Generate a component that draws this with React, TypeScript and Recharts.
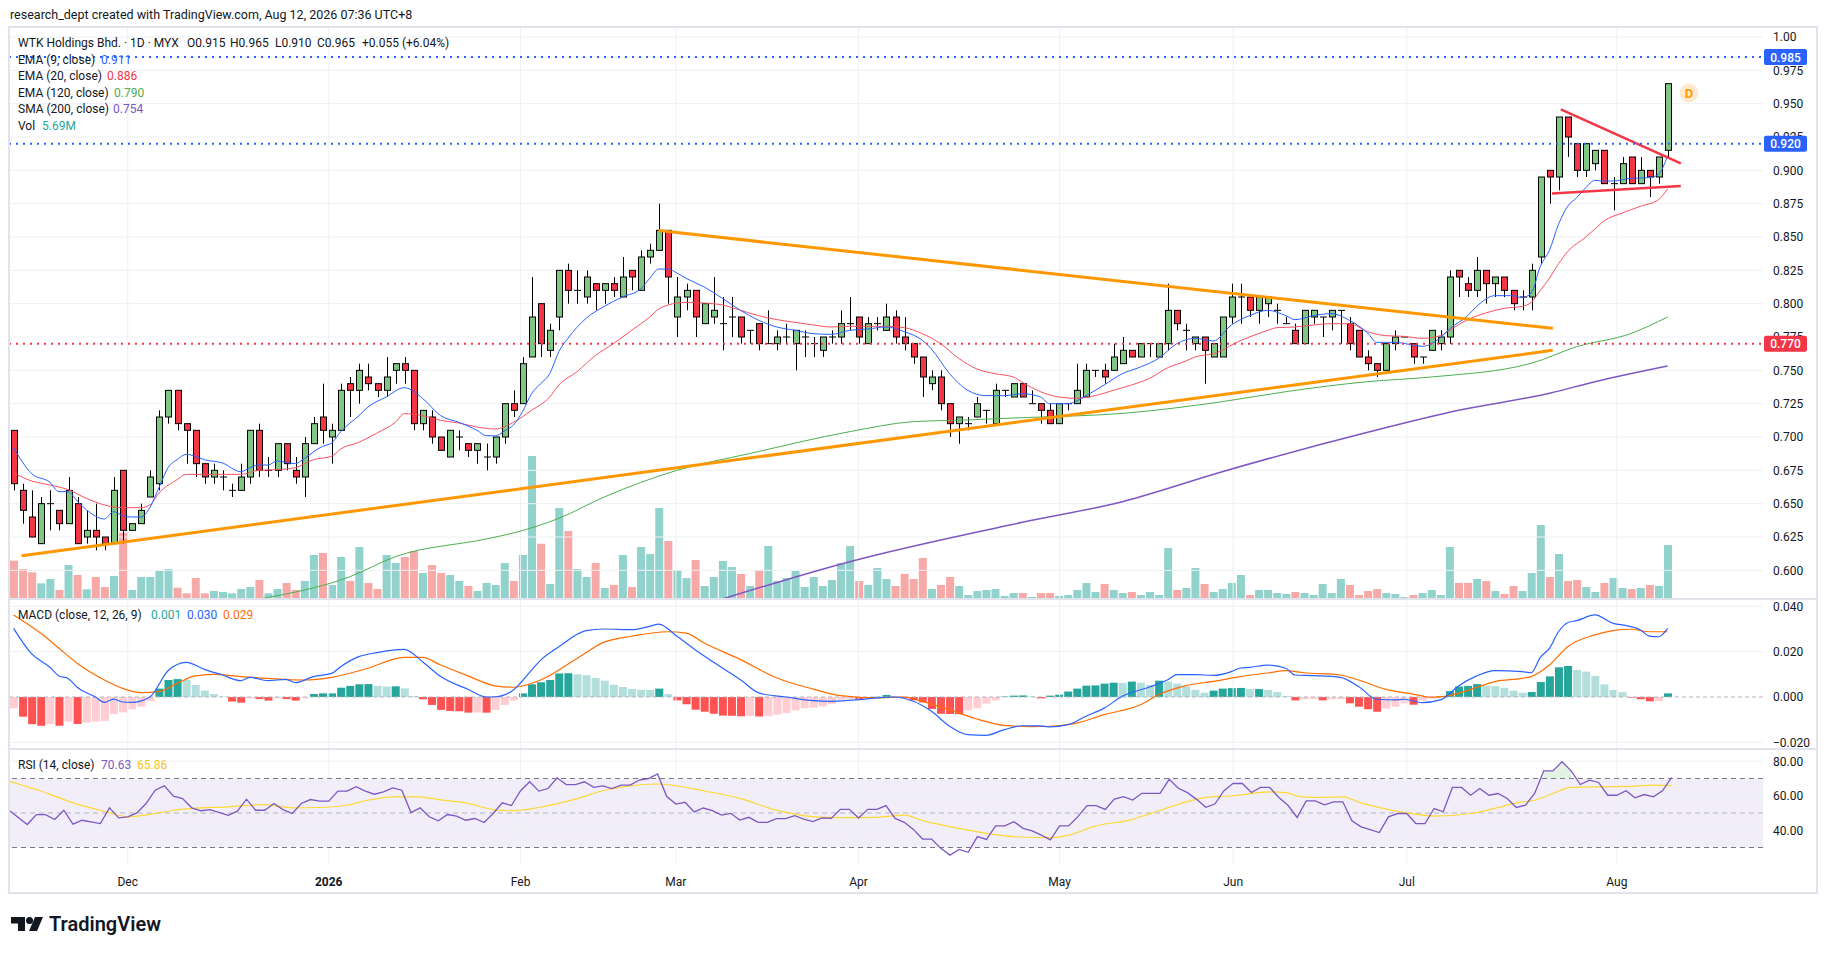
import React from "react";
import {
  ComposedChart,
  Bar,
  Line,
  Area,
  XAxis,
  YAxis,
  ReferenceLine,
  ReferenceArea,
} from "recharts";

// ---- daily candles, 13 Nov 2025 .. 11 Aug 2026 (index = trading day) ----
const OPEN = [
  0.705, 0.66, 0.64, 0.62, 0.65, 0.645, 0.635, 0.65, 0.625, 0.63,
  0.625, 0.62, 0.675, 0.63, 0.635, 0.655, 0.665, 0.715, 0.735, 0.71,
  0.705, 0.68, 0.67, 0.67, 0.66, 0.66, 0.67, 0.705, 0.675, 0.675,
  0.695, 0.675, 0.67, 0.695, 0.715, 0.7, 0.705, 0.74, 0.735, 0.745,
  0.74, 0.735, 0.75, 0.755, 0.75, 0.71, 0.715, 0.7, 0.685, 0.7,
  0.695, 0.69, 0.685, 0.685, 0.7, 0.725, 0.725, 0.76, 0.8, 0.765,
  0.79, 0.825, 0.81, 0.805, 0.815, 0.81, 0.815, 0.805, 0.825, 0.81,
  0.835, 0.84, 0.855, 0.79, 0.805, 0.81, 0.785, 0.79, 0.785, 0.79,
  0.79, 0.78, 0.785, 0.77, 0.77, 0.775, 0.77, 0.775, 0.77, 0.765,
  0.775, 0.775, 0.785, 0.79, 0.77, 0.785, 0.78, 0.79, 0.775, 0.77,
  0.76, 0.74, 0.745, 0.725, 0.71, 0.71, 0.715, 0.72, 0.71, 0.735,
  0.73, 0.74, 0.725, 0.725, 0.72, 0.71, 0.725, 0.725, 0.73, 0.75,
  0.75, 0.75, 0.755, 0.765, 0.76, 0.77, 0.76, 0.77, 0.795, 0.78,
  0.77, 0.775, 0.76, 0.76, 0.79, 0.805, 0.805, 0.795, 0.8, 0.795,
  0.785, 0.78, 0.77, 0.79, 0.79, 0.79, 0.795, 0.785, 0.78, 0.76,
  0.755, 0.75, 0.77, 0.775, 0.77, 0.76, 0.765, 0.77, 0.775, 0.825,
  0.815, 0.81, 0.825, 0.815, 0.82, 0.81, 0.805, 0.805, 0.835, 0.9,
  0.895, 0.94, 0.92, 0.9, 0.905, 0.915, 0.89, 0.89, 0.91, 0.89,
  0.9, 0.895, 0.915,
];
const HIGH = [
  0.705, 0.665, 0.66, 0.655, 0.66, 0.645, 0.67, 0.655, 0.645, 0.65,
  0.625, 0.67, 0.675, 0.635, 0.65, 0.675, 0.72, 0.735, 0.735, 0.71,
  0.705, 0.68, 0.68, 0.675, 0.665, 0.68, 0.705, 0.71, 0.685, 0.695,
  0.695, 0.685, 0.7, 0.715, 0.74, 0.71, 0.74, 0.745, 0.755, 0.755,
  0.74, 0.76, 0.755, 0.76, 0.75, 0.72, 0.72, 0.7, 0.705, 0.705,
  0.695, 0.695, 0.695, 0.7, 0.725, 0.735, 0.76, 0.82, 0.8, 0.785,
  0.825, 0.83, 0.825, 0.825, 0.815, 0.815, 0.82, 0.835, 0.825, 0.84,
  0.845, 0.875, 0.855, 0.82, 0.815, 0.81, 0.8, 0.82, 0.805, 0.805,
  0.79, 0.78, 0.785, 0.795, 0.78, 0.785, 0.78, 0.78, 0.775, 0.775,
  0.78, 0.795, 0.805, 0.79, 0.79, 0.79, 0.8, 0.795, 0.79, 0.77,
  0.76, 0.75, 0.75, 0.725, 0.715, 0.715, 0.73, 0.72, 0.74, 0.735,
  0.74, 0.74, 0.735, 0.725, 0.725, 0.725, 0.725, 0.755, 0.755, 0.75,
  0.755, 0.77, 0.775, 0.765, 0.77, 0.77, 0.77, 0.815, 0.795, 0.785,
  0.775, 0.775, 0.77, 0.79, 0.815, 0.815, 0.805, 0.805, 0.805, 0.8,
  0.79, 0.785, 0.795, 0.795, 0.79, 0.795, 0.795, 0.79, 0.78, 0.765,
  0.755, 0.77, 0.78, 0.775, 0.77, 0.76, 0.78, 0.78, 0.825, 0.825,
  0.82, 0.835, 0.825, 0.82, 0.82, 0.81, 0.81, 0.83, 0.895, 0.9,
  0.94, 0.94, 0.92, 0.92, 0.915, 0.915, 0.895, 0.91, 0.91, 0.91,
  0.9, 0.91, 0.965,
];
const LOW = [
  0.66, 0.635, 0.625, 0.62, 0.63, 0.63, 0.635, 0.62, 0.62, 0.615,
  0.615, 0.62, 0.62, 0.63, 0.635, 0.655, 0.66, 0.71, 0.705, 0.68,
  0.67, 0.665, 0.665, 0.66, 0.655, 0.66, 0.665, 0.67, 0.67, 0.67,
  0.675, 0.665, 0.655, 0.695, 0.695, 0.68, 0.705, 0.715, 0.725, 0.735,
  0.73, 0.73, 0.74, 0.74, 0.705, 0.705, 0.695, 0.69, 0.685, 0.69,
  0.685, 0.68, 0.675, 0.68, 0.695, 0.715, 0.725, 0.76, 0.76, 0.76,
  0.78, 0.8, 0.8, 0.8, 0.795, 0.8, 0.805, 0.805, 0.81, 0.81,
  0.83, 0.84, 0.8, 0.775, 0.795, 0.775, 0.785, 0.785, 0.765, 0.775,
  0.77, 0.77, 0.765, 0.77, 0.765, 0.77, 0.75, 0.76, 0.76, 0.76,
  0.77, 0.77, 0.78, 0.77, 0.77, 0.78, 0.78, 0.77, 0.765, 0.755,
  0.73, 0.735, 0.72, 0.7, 0.695, 0.705, 0.715, 0.71, 0.71, 0.73,
  0.73, 0.73, 0.725, 0.71, 0.71, 0.71, 0.72, 0.725, 0.73, 0.745,
  0.74, 0.75, 0.755, 0.76, 0.76, 0.76, 0.76, 0.765, 0.78, 0.765,
  0.765, 0.74, 0.76, 0.76, 0.785, 0.785, 0.79, 0.785, 0.79, 0.785,
  0.785, 0.77, 0.77, 0.785, 0.775, 0.78, 0.77, 0.765, 0.76, 0.75,
  0.745, 0.75, 0.765, 0.775, 0.755, 0.755, 0.765, 0.765, 0.77, 0.805,
  0.805, 0.805, 0.8, 0.805, 0.805, 0.795, 0.795, 0.795, 0.83, 0.875,
  0.885, 0.91, 0.895, 0.895, 0.9, 0.89, 0.87, 0.89, 0.89, 0.89,
  0.88, 0.89, 0.91,
];
const CLOSE = [
  0.665, 0.645, 0.625, 0.65, 0.65, 0.635, 0.66, 0.62, 0.63, 0.625,
  0.62, 0.66, 0.63, 0.635, 0.645, 0.67, 0.715, 0.735, 0.71, 0.705,
  0.68, 0.67, 0.675, 0.67, 0.66, 0.67, 0.705, 0.675, 0.675, 0.695,
  0.68, 0.67, 0.695, 0.71, 0.705, 0.705, 0.735, 0.735, 0.75, 0.74,
  0.735, 0.745, 0.755, 0.75, 0.71, 0.72, 0.7, 0.69, 0.705, 0.7,
  0.69, 0.695, 0.685, 0.7, 0.725, 0.72, 0.755, 0.79, 0.77, 0.78,
  0.825, 0.81, 0.81, 0.82, 0.81, 0.815, 0.81, 0.82, 0.82, 0.835,
  0.84, 0.855, 0.82, 0.805, 0.81, 0.79, 0.8, 0.795, 0.785, 0.79,
  0.775, 0.78, 0.77, 0.77, 0.775, 0.775, 0.78, 0.775, 0.77, 0.775,
  0.775, 0.785, 0.785, 0.775, 0.785, 0.785, 0.79, 0.775, 0.77, 0.76,
  0.745, 0.745, 0.725, 0.71, 0.715, 0.71, 0.725, 0.72, 0.735, 0.735,
  0.74, 0.73, 0.725, 0.72, 0.71, 0.725, 0.725, 0.735, 0.75, 0.75,
  0.745, 0.76, 0.765, 0.76, 0.77, 0.77, 0.77, 0.795, 0.785, 0.78,
  0.775, 0.765, 0.77, 0.79, 0.805, 0.805, 0.795, 0.805, 0.805, 0.795,
  0.785, 0.77, 0.795, 0.795, 0.79, 0.795, 0.795, 0.77, 0.76, 0.755,
  0.75, 0.77, 0.775, 0.775, 0.76, 0.76, 0.78, 0.775, 0.82, 0.82,
  0.81, 0.825, 0.815, 0.82, 0.81, 0.8, 0.805, 0.825, 0.895, 0.895,
  0.94, 0.925, 0.9, 0.92, 0.915, 0.89, 0.89, 0.905, 0.89, 0.9,
  0.895, 0.91, 0.965,
];
// volume, millions of shares
const VOLUME = [
  4.04, 3.16, 2.81, 1.65, 2.11, 0.95, 3.58, 2.53, 1.02, 2.32,
  1.26, 2.42, 6.99, 0.95, 2.32, 2.32, 2.95, 3.16, 1.19, 0.6,
  2.21, 0.6, 0.84, 0.74, 0.6, 1.05, 1.26, 2.0, 0.6, 1.05,
  1.69, 0.95, 1.9, 4.64, 4.85, 1.48, 4.43, 1.9, 5.48, 1.69,
  1.05, 4.64, 3.79, 4.43, 5.06, 2.74, 3.58, 2.74, 2.53, 1.9,
  1.37, 0.84, 1.69, 1.48, 3.79, 1.9, 4.64, 15.07, 5.83, 1.58,
  9.59, 7.17, 3.16, 2.32, 3.79, 1.16, 1.48, 4.64, 1.26, 5.48,
  4.74, 9.59, 6.11, 3.06, 2.21, 4.11, 1.37, 2.32, 4.01, 3.37,
  2.64, 1.37, 3.06, 5.59, 1.9, 2.21, 2.95, 1.26, 2.32, 1.37,
  2.0, 3.79, 5.59, 1.9, 1.48, 3.27, 2.11, 1.37, 2.64, 2.11,
  4.32, 1.05, 1.48, 2.32, 1.37, 0.42, 0.84, 0.95, 1.05, 0.32,
  0.63, 0.63, 0.21, 0.63, 0.63, 0.32, 0.42, 0.95, 1.69, 0.74,
  1.58, 0.95, 0.63, 0.74, 0.42, 0.74, 0.42, 5.38, 0.95, 1.16,
  3.27, 1.58, 0.74, 1.05, 1.69, 2.53, 0.42, 0.95, 0.95, 0.63,
  0.53, 0.74, 0.63, 0.42, 1.58, 0.63, 2.11, 1.48, 0.42, 0.84,
  1.05, 0.63, 0.53, 0.21, 0.42, 0.63, 0.95, 0.42, 5.48, 1.69,
  1.69, 2.11, 1.9, 0.84, 0.53, 1.37, 0.84, 2.74, 7.8, 2.32,
  4.74, 1.9, 2.0, 1.26, 0.74, 1.69, 2.21, 1.16, 1.05, 1.16,
  1.48, 1.37, 5.69,
];

// ---- indicator readings [trading-day index, value] ----
const EMA9_PTS = [
  [0, 0.692], [2, 0.6725], [4, 0.666], [5, 0.659], [6, 0.659], [7, 0.652], [8, 0.6455],
  [10, 0.6385], [11, 0.644], [12, 0.641], [13, 0.64], [14, 0.64], [15, 0.647], [16, 0.662],
  [17, 0.677], [18, 0.683], [19, 0.687], [20, 0.6855], [21, 0.683], [23, 0.6805], [25, 0.674],
  [26, 0.677], [27, 0.679], [28, 0.679], [29, 0.682], [31, 0.68], [32, 0.684], [34, 0.693],
  [35, 0.6955], [36, 0.704], [38, 0.716], [39, 0.7225], [41, 0.73], [43, 0.737], [45, 0.729],
  [47, 0.716], [49, 0.711], [51, 0.705], [52, 0.701], [53, 0.7008], [54, 0.7045], [55, 0.709],
  [56, 0.719], [57, 0.7325], [58, 0.74], [59, 0.7475], [60, 0.764], [61, 0.774], [63, 0.789],
  [65, 0.798], [67, 0.805], [69, 0.811], [70, 0.819], [71, 0.826], [72, 0.826], [73, 0.823],
  [74, 0.819], [76, 0.8125], [78, 0.804], [80, 0.795], [82, 0.7875], [84, 0.7825], [86, 0.78],
  [88, 0.7775], [90, 0.777], [92, 0.78], [94, 0.781], [96, 0.7825], [98, 0.779], [100, 0.7725],
  [101, 0.766], [103, 0.7475], [105, 0.735], [107, 0.731], [109, 0.731], [111, 0.7325],
  [113, 0.73], [114, 0.725], [116, 0.725], [118, 0.731], [120, 0.739], [122, 0.7475],
  [124, 0.7525], [126, 0.759], [128, 0.77], [130, 0.774], [132, 0.772], [134, 0.784],
  [136, 0.791], [138, 0.795], [140, 0.791], [141, 0.788], [143, 0.791], [145, 0.7925],
  [147, 0.7875], [149, 0.778], [150, 0.771], [152, 0.771], [155, 0.768], [157, 0.7745],
  [158, 0.781], [160, 0.791], [161, 0.798], [163, 0.806], [165, 0.806], [166, 0.8045],
  [167, 0.808], [168, 0.828], [169, 0.84], [170, 0.8595], [171, 0.873], [172, 0.8795],
  [173, 0.887], [174, 0.8925], [175, 0.892], [176, 0.892], [178, 0.894], [180, 0.8945],
  [181, 0.897], [182, 0.911],
];
const EMA20_PTS = [
  [0, 0.673], [2, 0.667], [4, 0.664], [6, 0.6605], [8, 0.654], [10, 0.649], [12, 0.647],
  [14, 0.647], [15, 0.649], [16, 0.658], [18, 0.668], [19, 0.672], [21, 0.672], [23, 0.672],
  [25, 0.672], [27, 0.675], [29, 0.6755], [31, 0.677], [33, 0.683], [35, 0.6855], [36, 0.691],
  [38, 0.696], [40, 0.703], [42, 0.711], [43, 0.7175], [45, 0.716], [47, 0.7125], [49, 0.7105],
  [51, 0.7075], [53, 0.706], [55, 0.711], [57, 0.72], [59, 0.73], [60, 0.739], [62, 0.749],
  [64, 0.761], [66, 0.77], [68, 0.78], [70, 0.79], [71, 0.796], [72, 0.799], [74, 0.801],
  [76, 0.8005], [78, 0.799], [80, 0.795], [82, 0.791], [84, 0.788], [86, 0.786], [88, 0.784],
  [90, 0.7825], [92, 0.783], [94, 0.783], [96, 0.783], [98, 0.782], [100, 0.7775], [102, 0.77],
  [104, 0.759], [106, 0.751], [108, 0.7475], [110, 0.745], [111, 0.741], [113, 0.734],
  [115, 0.73], [117, 0.729], [119, 0.731], [121, 0.735], [123, 0.739], [125, 0.744],
  [127, 0.752], [129, 0.757], [130, 0.76], [132, 0.7625], [133, 0.765], [134, 0.769],
  [136, 0.775], [138, 0.78], [139, 0.782], [141, 0.7825], [143, 0.784], [145, 0.785],
  [147, 0.785], [149, 0.779], [151, 0.776], [153, 0.7755], [155, 0.774], [157, 0.776],
  [158, 0.78], [160, 0.788], [162, 0.793], [164, 0.7965], [166, 0.798], [167, 0.801],
  [168, 0.81], [169, 0.819], [170, 0.83], [171, 0.839], [173, 0.85], [174, 0.856],
  [175, 0.862], [177, 0.868], [179, 0.873], [181, 0.878], [182, 0.886],
];
const EMA120_PTS = [
  [27, 0.5785], [37, 0.5952], [42, 0.6102], [52, 0.6235], [55, 0.628], [60, 0.639],
  [65, 0.655], [73, 0.675], [81, 0.6876], [92, 0.704], [99, 0.7115], [105, 0.7128],
  [111, 0.7145], [122, 0.7177], [133, 0.7265], [140, 0.734], [149, 0.7415], [156, 0.745],
  [167, 0.7553], [172, 0.7677], [178, 0.7777], [182, 0.79],
];
const SMA200_PTS = [
  [78, 0.5785], [92, 0.6065], [111, 0.636], [122, 0.6515], [133, 0.674], [149, 0.7035],
  [159, 0.72], [169, 0.7328], [174, 0.7415], [182, 0.7533],
];

const MACD_PTS = [
  [0, 0.0303], [2, 0.019], [4, 0.0131], [5, 0.0093], [6, 0.0082], [7, 0.0043], [9, 0],
  [10, -0.0024], [11, -0.0009], [12, -0.0022], [13, -0.0024], [15, 0], [17, 0.0116],
  [19, 0.0153], [21, 0.0122], [23, 0.0097], [25, 0.0072], [26, 0.0087], [28, 0.0072],
  [30, 0.0078], [31, 0.0063], [33, 0.009], [35, 0.0104], [36, 0.0134], [38, 0.0178],
  [40, 0.0196], [43, 0.021], [45, 0.0156], [47, 0.009], [50, 0.0034], [52, 0], [53, 0.0001],
  [55, 0.0031], [57, 0.0119], [58, 0.0163], [60, 0.0222], [63, 0.0293], [65, 0.03],
  [68, 0.0297], [70, 0.0312], [71, 0.0322], [73, 0.0268], [75, 0.0209], [78, 0.0128],
  [80, 0.0076], [82, 0.0018], [85, 0], [88, -0.0016], [90, -0.0019], [93, -0.0012],
  [95, -0.0004], [97, 0], [99, -0.0019], [101, -0.0063], [103, -0.0129], [105, -0.0166],
  [107, -0.0169], [109, -0.0144], [111, -0.0127], [113, -0.0127], [114, -0.0132],
  [116, -0.0122], [118, -0.0085], [120, -0.0049], [122, 0.0003], [125, 0.0044],
  [127, 0.0076], [128, 0.0099], [130, 0.0099], [132, 0.0095], [134, 0.0112], [135, 0.0128],
  [136, 0.0131], [138, 0.0141], [140, 0.0127], [141, 0.0097], [143, 0.0094], [146, 0.0087],
  [148, 0.0046], [150, -0.001], [152, -0.0013], [153, -0.001], [155, -0.0025], [157, -0.0013],
  [159, 0.0049], [161, 0.0093], [163, 0.0116], [166, 0.0112], [167, 0.0107], [168, 0.0175],
  [169, 0.0215], [170, 0.0288], [171, 0.0328], [172, 0.0337], [174, 0.0362], [176, 0.0325],
  [177, 0.0318], [179, 0.0296], [180, 0.0269], [181, 0.0266], [182, 0.0303],
];
const SIGNAL_PTS = [
  [0, 0.0362], [3, 0.0281], [5, 0.0215], [7, 0.0149], [10, 0.0075], [12, 0.0038],
  [14, 0.0019], [16, 0.0024], [18, 0.006], [20, 0.0093], [22, 0.01], [25, 0.009],
  [28, 0.0082], [32, 0.0075], [35, 0.0087], [39, 0.0127], [43, 0.0175], [45, 0.0175],
  [47, 0.0141], [50, 0.0093], [53, 0.0049], [55, 0.0043], [58, 0.0075], [62, 0.017],
  [65, 0.0242], [68, 0.0268], [72, 0.0288], [74, 0.0282], [76, 0.0238], [80, 0.0165],
  [84, 0.0084], [88, 0.0035], [91, 0.0006], [95, -0.0004], [98, 0], [100, -0.0019],
  [103, -0.0056], [106, -0.0097], [109, -0.0125], [112, -0.0131], [114, -0.0129],
  [117, -0.0115], [120, -0.0078], [124, -0.0034], [126, 0.001], [129, 0.005], [132, 0.0069],
  [135, 0.009], [138, 0.0106], [140, 0.0116], [142, 0.0107], [146, 0.0097], [148, 0.0075],
  [151, 0.0034], [154, 0.0013], [156, -0.0001], [159, 0.0016], [161, 0.0043], [163, 0.0068],
  [166, 0.0082], [167, 0.009], [169, 0.0141], [171, 0.0222], [174, 0.0274], [176, 0.0293],
  [178, 0.0299], [180, 0.0288], [182, 0.0288],
];
const HIST = [
  -0.005, -0.0087, -0.012, -0.0127, -0.012, -0.0127, -0.0109, -0.0119, -0.0113, -0.0109,
  -0.0106, -0.0075, -0.0068, -0.0054, -0.0043, -0.0018, 0.0037, 0.0075, 0.0079, 0.0075,
  0.0053, 0.0028, 0.0013, 0.0002, -0.002, -0.0025, -0.0006, -0.0009, -0.0016, -0.0006,
  -0.0009, -0.0016, -0.0006, 0.0013, 0.0016, 0.0016, 0.0041, 0.0049, 0.0056, 0.0057,
  0.0049, 0.0046, 0.0047, 0.0038, 0.0004, -0.001, -0.0035, -0.0057, -0.0062, -0.0063,
  -0.0069, -0.0068, -0.0069, -0.0057, -0.0035, -0.0016, 0.0016, 0.0056, 0.0065, 0.0075,
  0.0104, 0.0105, 0.01, 0.0096, 0.0084, 0.0072, 0.0054, 0.0044, 0.0035, 0.0032,
  0.0031, 0.0037, 0.0013, -0.0015, -0.0032, -0.0056, -0.0065, -0.0074, -0.0082, -0.0083,
  -0.0085, -0.0084, -0.0086, -0.0085, -0.0078, -0.0071, -0.0059, -0.005, -0.0047, -0.0041,
  -0.0031, -0.0012, -0.0009, -0.0012, -0.0002, 0.0001, 0.0009, 0.0002, -0.0006, -0.0015,
  -0.0024, -0.0053, -0.0074, -0.0075, -0.0076, -0.0059, -0.005, -0.0029, -0.0015, 0.0002,
  0.0006, 0.0007, 0.0003, -0.0006, 0.0006, 0.001, 0.0024, 0.0037, 0.005, 0.0051,
  0.0059, 0.0063, 0.0062, 0.0068, 0.0063, 0.0053, 0.0072, 0.0068, 0.0059, 0.0046,
  0.0032, 0.0019, 0.0028, 0.0037, 0.0039, 0.004, 0.0035, 0.0035, 0.0031, 0.0022,
  0.0004, -0.0015, -0.001, -0.0009, -0.0015, -0.001, -0.0009, -0.0028, -0.0043, -0.0054,
  -0.0065, -0.0051, -0.0043, -0.0028, -0.0034, -0.0016, -0.0007, 0.0003, 0.0026, 0.0046,
  0.0049, 0.0057, 0.0049, 0.0048, 0.004, 0.0028, 0.0019, 0.0022, 0.0066, 0.0091,
  0.0131, 0.0137, 0.0119, 0.0112, 0.0093, 0.0056, 0.0031, 0.0021, -0.0003, -0.001,
  -0.0019, -0.0018, 0.0016,
];

const RSI_PTS = [
  [0, 51.6], [2, 43.3], [3, 49.1], [4, 49.1], [5, 46.2], [6, 51.6], [7, 43.5], [8, 45.8],
  [10, 43.9], [11, 53], [12, 47.2], [13, 47.8], [14, 50.1], [15, 55.5], [16, 63.2], [17, 65.7],
  [18, 59.8], [19, 58.4], [20, 53], [21, 51.3], [22, 52], [24, 48.7], [25, 51.1], [26, 58],
  [27, 51.6], [28, 51.6], [29, 55.5], [30, 52], [31, 49.7], [32, 55.5], [33, 57.8], [34, 56.9],
  [35, 56.9], [36, 62.7], [37, 62.7], [38, 65.2], [39, 62.7], [40, 60.9], [41, 62.3], [42, 64.6],
  [43, 63.2], [44, 50.3], [45, 53], [46, 47.8], [47, 45.5], [48, 49.1], [49, 48.2], [50, 45.8],
  [51, 46.8], [52, 44.5], [53, 49.7], [54, 55.9], [55, 54.3], [56, 62.9], [57, 68.1], [58, 62.7],
  [59, 64.2], [60, 70.4], [61, 66.5], [62, 66.5], [63, 68.1], [64, 64.9], [65, 65.7], [66, 64.1],
  [67, 66.2], [68, 66.2], [69, 69.1], [70, 70], [71, 72.6], [72, 59.5], [73, 55.2], [74, 56.2],
  [75, 50.6], [76, 52.9], [77, 51.4], [78, 48.8], [79, 49.8], [80, 45.9], [81, 47.5], [82, 44.6],
  [83, 44.6], [84, 46.7], [85, 46.7], [86, 48.5], [87, 46.5], [88, 45], [89, 47.1], [90, 46.9],
  [91, 52.1], [92, 52.1], [93, 47.1], [94, 52.1], [95, 52.1], [96, 54.3], [97, 46.9], [98, 44.6],
  [99, 40.5], [100, 34.9], [101, 34.9], [102, 29.5], [103, 25.6], [104, 28.9], [105, 27.2],
  [106, 36.3], [107, 34.7], [108, 42.5], [109, 42.5], [110, 45], [111, 41.1], [112, 39.6],
  [113, 37.2], [114, 34.4], [115, 42.5], [116, 42.5], [117, 47.9], [118, 54.3], [119, 54.3],
  [120, 52.1], [121, 58.1], [122, 59.5], [123, 57.5], [124, 61.4], [125, 61.4], [126, 61.4],
  [127, 69.5], [128, 64.3], [129, 61.8], [130, 57.9], [131, 53.3], [132, 55.2], [133, 62.9],
  [134, 67.2], [135, 67.1], [136, 61.9], [137, 64.8], [138, 64.8], [139, 59], [140, 54.5],
  [141, 47.4], [142, 57], [143, 57], [144, 54.7], [145, 56.5], [146, 56.5], [147, 45.5],
  [148, 42], [149, 40.4], [150, 38.7], [151, 47.8], [152, 49.7], [153, 49.7], [154, 43.9],
  [155, 43.9], [156, 52.6], [157, 50.7], [158, 64.8], [159, 64.8], [160, 60.3], [161, 64.2],
  [162, 60.3], [163, 61.3], [164, 58.4], [165, 53.2], [166, 54.5], [167, 61.3], [168, 74.4],
  [169, 74.4], [170, 79.7], [171, 74.4], [172, 66.5], [173, 69], [174, 67.7], [175, 60.3],
  [176, 60.3], [177, 62.9], [178, 58.8], [179, 60.7], [180, 59.4], [181, 62.9], [182, 70.63],
];
const RSI_MA_PTS = [
  [0, 68.5], [2, 65.2], [3, 63.6], [5, 59.8], [7, 55.9], [10, 51.6], [12, 48.7], [13, 47.8],
  [16, 49.7], [18, 51.6], [20, 52.6], [24, 53.6], [28, 54.9], [31, 53], [34, 53.2], [37, 54.5],
  [39, 57.1], [42, 59.4], [45, 59.4], [47, 57.8], [50, 55.9], [53, 52], [55, 51.3], [58, 53.2],
  [62, 58], [65, 62.9], [68, 65.7], [71, 66.8], [73, 65.8], [76, 62.9], [80, 58.5], [84, 51.7],
  [88, 47.9], [91, 47.3], [95, 47.5], [98, 48.8], [100, 45.6], [103, 42.1], [107, 38.2],
  [110, 36.3], [114, 35.7], [116, 37.2], [119, 42.5], [123, 46.3], [125, 49.8], [129, 56.6],
  [131, 59.1], [134, 60], [138, 62.3], [140, 61.7], [141, 59.8], [143, 59], [146, 59.4],
  [148, 55.9], [151, 52], [153, 50.1], [156, 48.2], [160, 49.7], [163, 53.2], [165, 55.9],
  [167, 57.4], [169, 61.3], [171, 64.8], [174, 65.2], [178, 65.6], [180, 66.2], [182, 65.86],
];

// ---- axis labels ----
const MONTHS: [number, string][] = [
  [13, "Dec"], [35, "2026"], [56, "Feb"], [73, "Mar"], [93, "Apr"],
  [115, "May"], [134, "Jun"], [153, "Jul"], [176, "Aug"],
];
const PRICE_TICKS = [
  0.6, 0.625, 0.65, 0.675, 0.7, 0.725, 0.75, 0.775, 0.8, 0.825, 0.85,
  0.875, 0.9, 0.925, 0.95, 0.975, 1.0,
];
const MACD_TICKS = [0.04, 0.02, 0, -0.02];
const RSI_TICKS = [80, 60, 40];

// ---- layout / style ----
const FONT = "Roboto, 'Noto Sans', sans-serif";
const INK = "#131722";
const GRID = "#eef0f4";
const SLOTS = 193;
const PMIN = 0.5785;
const PMAX = 1.0075;
const VMAX = 60.3;
const IDX_DOMAIN: [number, number] = [-0.5, 192.5];
const LEFT = 9;
const W = 1808;
const AXIS_W = 54;

const toSlots = (pts: number[][]) => {
  const out: (number | null)[] = new Array(SLOTS).fill(null);
  pts.forEach(([i, v]) => (out[i] = v));
  return out;
};
const ema9 = toSlots(EMA9_PTS);
const ema20 = toSlots(EMA20_PTS);
const ema120 = toSlots(EMA120_PTS);
const sma200 = toSlots(SMA200_PTS);
const macd = toSlots(MACD_PTS);
const signal = toSlots(SIGNAL_PTS);
const rsi = toSlots(RSI_PTS);
const rsiMa = toSlots(RSI_MA_PTS);

const rows = Array.from({ length: SLOTS }, (_, i) => ({
  i,
  o: OPEN[i] ?? null,
  h: HIGH[i] ?? null,
  l: LOW[i] ?? null,
  c: CLOSE[i] ?? null,
  v: VOLUME[i] ?? null,
  hist: HIST[i] ?? null,
  ema9: ema9[i],
  ema20: ema20[i],
  ema120: ema120[i],
  sma200: sma200[i],
  macd: macd[i],
  signal: signal[i],
  rsi: rsi[i],
  rsiMa: rsiMa[i],
}));

const monthLabel = new Map(MONTHS);

const Candle = (p: any) => {
  const d = p.payload;
  if (!d || d.h == null || !(p.height > 0)) return <g />;
  const k = p.height / (d.h - PMIN);
  const py = (v: number) => p.y + (d.h - v) * k;
  const cx = Math.round(p.x + p.width / 2) + 0.5;
  const bx = Math.round(p.x) + 0.5;
  const top = py(Math.max(d.o, d.c));
  const bot = py(Math.min(d.o, d.c));
  return (
    <g>
      <line x1={cx} x2={cx} y1={py(d.h)} y2={py(d.l)} stroke="#000" strokeWidth={1} />
      <rect
        x={bx}
        y={top}
        width={Math.round(p.width)}
        height={Math.max(bot - top, 0.01)}
        fill={d.c >= d.o ? "#81c784" : "#f23645"}
        stroke="#000"
        strokeWidth={1}
      />
    </g>
  );
};

const VolBar = (p: any) => {
  const d = p.payload;
  if (!d || d.v == null) return <g />;
  return (
    <rect
      x={p.x}
      y={p.y}
      width={p.width}
      height={Math.max(p.height, 0)}
      fill={d.c >= d.o ? "#92d2cc" : "#f7a9a7"}
    />
  );
};

const HistBar = (p: any) => {
  const d = p.payload;
  if (!d || d.hist == null) return <g />;
  const prev = d.i > 0 ? HIST[d.i - 1] : d.hist;
  const fill =
    d.hist >= 0
      ? d.hist >= prev
        ? "#26a69a"
        : "#b2dfdb"
      : d.hist < prev
      ? "#ff5252"
      : "#ffcdd2";
  const y = p.height < 0 ? p.y + p.height : p.y;
  return <rect x={p.x} y={y} width={p.width} height={Math.abs(p.height)} fill={fill} />;
};

const PriceTag = ({ viewBox, text, color }: any) => {
  if (!viewBox) return null;
  const x = viewBox.x + viewBox.width + 1;
  const y = viewBox.y;
  return (
    <g>
      <rect x={x} y={y - 8} width={43} height={16} rx={2} fill={color} />
      <text
        x={x + 21.5}
        y={y + 4.5}
        textAnchor="middle"
        fontSize={12}
        fontWeight={500}
        fill="#fff"
        fontFamily={FONT}
      >
        {text}
      </text>
    </g>
  );
};

const MonthTick = (p: any) => {
  const label = monthLabel.get(p.payload?.value);
  if (!label) return <g />;
  return (
    <text
      x={p.x}
      y={p.y + 19}
      textAnchor="middle"
      fontSize={12}
      fill={INK}
      fontFamily={FONT}
      fontWeight={label === "2026" ? 700 : 400}
    >
      {label}
    </text>
  );
};

const tickStyle = { fontSize: 12, fill: INK, fontFamily: FONT };
const box = (top: number): React.CSSProperties => ({ position: "absolute", left: LEFT, top });

const monthLines = () =>
  MONTHS.map(([i]) => (
    <ReferenceLine key={"m" + i} xAxisId="n" x={i} stroke={GRID} strokeWidth={1} />
  ));

export default function App() {
  return (
    <div
      style={{
        position: "absolute",
        left: 0,
        top: 0,
        width: 1827,
        height: 954,
        background: "#fff",
        fontFamily: FONT,
        overflow: "hidden",
      }}
    >
      {/* price pane: grid + volume */}
      <div style={box(27)}>
        <ComposedChart width={W} height={572} data={rows} margin={{ top: 0, right: AXIS_W, bottom: 0, left: 0 }}>
          <XAxis dataKey="i" type="category" hide />
          <XAxis xAxisId="n" type="number" domain={IDX_DOMAIN} allowDataOverflow hide />
          <YAxis domain={[PMIN, PMAX]} allowDataOverflow hide />
          <YAxis yAxisId="v" domain={[0, VMAX]} allowDataOverflow hide />
          {PRICE_TICKS.map((t) => (
            <ReferenceLine key={"g" + t} y={t} stroke={GRID} strokeWidth={1} />
          ))}
          {monthLines()}
          <Bar dataKey="v" yAxisId="v" barSize={8} shape={VolBar} isAnimationActive={false} />
        </ComposedChart>
      </div>

      {/* price pane: candles, averages, trend lines */}
      <div style={box(27)}>
        <ComposedChart width={W} height={572} data={rows} margin={{ top: 0, right: 0, bottom: 0, left: 0 }}>
          <XAxis dataKey="i" type="category" hide />
          <XAxis xAxisId="n" type="number" domain={IDX_DOMAIN} allowDataOverflow hide />
          <YAxis
            orientation="right"
            width={AXIS_W}
            domain={[PMIN, PMAX]}
            allowDataOverflow
            ticks={PRICE_TICKS}
            interval={0}
            axisLine={false}
            tickLine={false}
            tickSize={0}
            tickMargin={10}
            tick={tickStyle}
            tickFormatter={(v: number) => (v >= 0.999 ? v.toFixed(2) : v.toFixed(3))}
          />
          <Line dataKey="sma200" stroke="#7e57c2" strokeWidth={1.5} dot={false} connectNulls type="monotone" isAnimationActive={false} />
          <Line dataKey="ema120" stroke="#4caf50" strokeWidth={1} dot={false} connectNulls type="monotone" isAnimationActive={false} />
          <Line dataKey="ema20" stroke="#f7525f" strokeWidth={1} dot={false} connectNulls type="monotone" isAnimationActive={false} />
          <Line dataKey="ema9" stroke="#2962ff" strokeWidth={1} dot={false} connectNulls type="monotone" isAnimationActive={false} />
          <ReferenceLine xAxisId="n" segment={[{ x: 1.38, y: 0.611 }, { x: 168.97, y: 0.765 }]} stroke="#ff9800" strokeWidth={3} />
          <ReferenceLine xAxisId="n" segment={[{ x: 71.1, y: 0.8548 }, { x: 169.0, y: 0.7815 }]} stroke="#ff9800" strokeWidth={3} />
          <Bar
            dataKey={(d: any) => (d.h == null ? null : [PMIN, d.h])}
            barSize={6}
            shape={Candle}
            isAnimationActive={false}
          />
          <ReferenceLine xAxisId="n" segment={[{ x: 169.87, y: 0.9457 }, { x: 183.0, y: 0.9053 }]} stroke="#f23645" strokeWidth={2.5} />
          <ReferenceLine xAxisId="n" segment={[{ x: 168.9, y: 0.8827 }, { x: 183.0, y: 0.8882 }]} stroke="#f23645" strokeWidth={2.5} />
        </ComposedChart>
      </div>

      {/* price pane: horizontal levels and their tags */}
      <div style={box(27)}>
        <ComposedChart width={W} height={572} data={rows} margin={{ top: 0, right: AXIS_W, bottom: 0, left: 0 }}>
          <XAxis dataKey="i" type="category" hide />
          <YAxis domain={[PMIN, PMAX]} allowDataOverflow hide />
          <ReferenceLine y={0.985} stroke="#2962ff" strokeWidth={2} strokeDasharray="2 5"
            label={<PriceTag text="0.985" color="#2962ff" />} />
          <ReferenceLine y={0.92} stroke="#2962ff" strokeWidth={2} strokeDasharray="2 5"
            label={<PriceTag text="0.920" color="#2962ff" />} />
          <ReferenceLine y={0.77} stroke="#f23645" strokeWidth={2} strokeDasharray="2 5"
            label={<PriceTag text="0.770" color="#f23645" />} />
        </ComposedChart>
      </div>

      {/* MACD pane */}
      <div style={box(599)}>
        <ComposedChart width={W} height={150} data={rows} margin={{ top: 0, right: 0, bottom: 0, left: 0 }}>
          <XAxis dataKey="i" type="category" hide />
          <XAxis xAxisId="n" type="number" domain={IDX_DOMAIN} allowDataOverflow hide />
          <YAxis
            orientation="right"
            width={AXIS_W}
            domain={[-0.02295, 0.04325]}
            allowDataOverflow
            ticks={MACD_TICKS}
            interval={0}
            axisLine={false}
            tickLine={false}
            tickSize={0}
            tickMargin={10}
            tick={tickStyle}
            tickFormatter={(v: number) => (v < 0 ? "\u2212" + Math.abs(v).toFixed(3) : v.toFixed(3))}
          />
          {MACD_TICKS.filter((t) => t !== 0).map((t) => (
            <ReferenceLine key={"mg" + t} y={t} stroke={GRID} />
          ))}
          {monthLines()}
          <ReferenceLine y={0} stroke="#b2b5be" strokeDasharray="4 3" />
          <Bar dataKey="hist" barSize={8} shape={HistBar} isAnimationActive={false} />
          <Line dataKey="signal" stroke="#ff6d00" strokeWidth={1.2} dot={false} connectNulls type="monotone" isAnimationActive={false} />
          <Line dataKey="macd" stroke="#2962ff" strokeWidth={1.2} dot={false} connectNulls type="monotone" isAnimationActive={false} />
        </ComposedChart>
      </div>

      {/* RSI pane + time axis */}
      <div style={box(749)}>
        <ComposedChart width={W} height={144} data={rows} margin={{ top: 0, right: 0, bottom: 0, left: 0 }}>
          <XAxis
            dataKey="i"
            type="category"
            interval={0}
            height={28}
            axisLine={false}
            tickLine={false}
            tickSize={0}
            tick={<MonthTick />}
          />
          <XAxis xAxisId="n" type="number" domain={IDX_DOMAIN} allowDataOverflow hide />
          <YAxis
            orientation="right"
            width={AXIS_W}
            domain={[19.86, 87.1]}
            allowDataOverflow
            ticks={RSI_TICKS}
            interval={0}
            axisLine={false}
            tickLine={false}
            tickSize={0}
            tickMargin={10}
            tick={tickStyle}
            tickFormatter={(v: number) => v.toFixed(2)}
          />
          <ReferenceArea y1={30} y2={70} fill="#7e57c2" fillOpacity={0.1} stroke="none" />
          {RSI_TICKS.map((t) => (
            <ReferenceLine key={"rg" + t} y={t} stroke={GRID} />
          ))}
          {monthLines()}
          <Area
            dataKey={(d: any) => (d.rsi != null && d.rsi > 70 ? [70, d.rsi] : null)}
            type="linear"
            stroke="none"
            fill="#4caf50"
            fillOpacity={0.16}
            isAnimationActive={false}
          />
          <ReferenceLine y={70} stroke="#787b86" strokeDasharray="5 4" />
          <ReferenceLine y={50} stroke="#787b86" strokeOpacity={0.5} strokeDasharray="5 4" />
          <ReferenceLine y={30} stroke="#787b86" strokeDasharray="5 4" />
          <Line dataKey="rsiMa" stroke="#fdd835" strokeWidth={1.2} dot={false} connectNulls type="monotone" isAnimationActive={false} />
          <Line dataKey="rsi" stroke="#7e57c2" strokeWidth={1.3} dot={false} connectNulls type="linear" isAnimationActive={false} />
        </ComposedChart>
      </div>

      {/* frame, legends, footer */}
      <svg
        width={1827}
        height={954}
        style={{ position: "absolute", left: 0, top: 0, pointerEvents: "none" }}
        fontFamily={FONT}
      >
        <text x={10} y={19} fontSize={12.5} fill={INK}>
          research_dept created with TradingView.com, Aug 12, 2026 07:36 UTC+8
        </text>
        <rect x={9} y={27} width={1808} height={866} fill="none" stroke="#e0e3eb" strokeWidth={2} />
        <line x1={9} x2={1817} y1={599} y2={599} stroke="#e0e3eb" strokeWidth={2} />
        <line x1={9} x2={1817} y1={749} y2={749} stroke="#e0e3eb" strokeWidth={2} />

        <g fontSize={12} fill={INK}>
          <text x={18} y={46.5}>WTK Holdings Bhd. · 1D · MYX</text>
          <text x={187} y={46.5}>O0.915</text>
          <text x={230} y={46.5}>H0.965</text>
          <text x={275} y={46.5}>L0.910</text>
          <text x={317} y={46.5}>C0.965</text>
          <text x={362} y={46.5}>+0.055 (+6.04%)</text>

          <text x={18} y={63.5}>EMA (9, close)</text>
          <text x={101} y={63.5} fill="#2962ff">0.911</text>
          <text x={18} y={80}>EMA (20, close)</text>
          <text x={107} y={80} fill="#f23645">0.886</text>
          <text x={18} y={96.5}>EMA (120, close)</text>
          <text x={114} y={96.5} fill="#4caf50">0.790</text>
          <text x={18} y={113}>SMA (200, close)</text>
          <text x={113} y={113} fill="#7e57c2">0.754</text>
          <text x={18} y={130}>Vol</text>
          <text x={42} y={130} fill="#26a69a">5.69M</text>

          <text x={18} y={619}>MACD (close, 12, 26, 9)</text>
          <text x={151} y={619} fill="#26a69a">0.001</text>
          <text x={187} y={619} fill="#2962ff">0.030</text>
          <text x={223} y={619} fill="#ff6d00">0.029</text>

          <text x={18} y={769}>RSI (14, close)</text>
          <text x={101} y={769} fill="#7e57c2">70.63</text>
          <text x={137} y={769} fill="#f5c518">65.86</text>
        </g>

        <circle cx={1689} cy={93} r={9.5} fill="#ffe9cf" />
        <text x={1689} y={97.5} textAnchor="middle" fontSize={13} fontWeight={700} fill="#ff9800">
          D
        </text>

        <g fill={INK}>
          <path d="M11 917h14v14h-7v-7.5h-7z" />
          <circle cx={29.5} cy={920.5} r={3.5} />
          <path d="M35 917h8l-6 14h-8z" />
          <text x={49} y={931} fontSize={20} fontWeight={600}>
            TradingView
          </text>
        </g>
      </svg>
    </div>
  );
}
